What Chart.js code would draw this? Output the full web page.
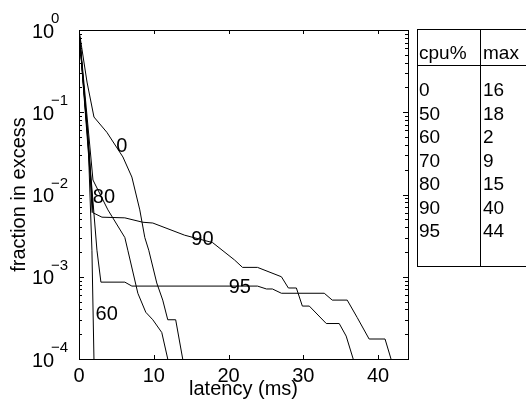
<!DOCTYPE html>
<html>
<head>
<meta charset="utf-8">
<script src="https://cdn.jsdelivr.net/npm/chart.js@4/dist/chart.umd.min.js"></script>
<style>
  body { margin: 0; background: #fff; overflow: hidden; }
  #wrap { position: relative; width: 526px; height: 410px; }
  #tbl { position: absolute; left: 417px; top: 29px; width: 130px; height: 236px;
         border: 1px solid #000; font-family: "Liberation Sans", Arial, sans-serif; font-size: 19px; color: #000; }
  #tbl .div { position: absolute; left: 62px; top: 0; bottom: 0; border-left: 1px solid #000; }
  #tbl .hline { position: absolute; left: 0; right: 0; top: 35px; border-top: 1px solid #000; }
  #tbl .c { position: absolute; line-height: 20px; }
</style>
</head>
<body>
<div id="wrap">
  <canvas id="cht" width="526" height="410"></canvas>
  <div id="tbl"><div class="div"></div><div class="hline"></div></div>
</div>
<script>
// latency (ms) / fraction in excess, one pair per cpu load
var lat0 = [0, 1.07, 2.0, 3.73, 5.87, 7.07, 8.13, 8.8, 9.33, 10.4, 11.2, 11.87, 12.93, 13.87];
var frac0 = [1, 0.233, 0.0875, 0.057, 0.0286, 0.0163, 0.0065, 0.0030, 0.0021, 0.00084, 0.00052, 0.0003, 0.0003, 0.0001];
var lat50 = [0, 1.4, 1.75];
var frac50 = [1, 0.03, 0.006];
var lat60 = [0, 1.2, 1.73, 2.0];
var frac60 = [1, 0.05, 0.0021, 0.0001];
var lat70 = [0, 1.6, 1.85];
var frac70 = [1, 0.015, 0.007];
var lat80 = [0, 1.87, 3.87, 6.13, 6.53, 7.87, 8.93, 9.87, 11.07, 11.87];
var frac80 = [1, 0.015, 0.0065, 0.003, 0.0021, 0.00063, 0.00037, 0.0003, 0.00021, 0.0001];
var lat90 = [0, 1.87, 3.07, 6.13, 8.53, 9.87, 14.13, 17.87, 20.8, 21.87, 23.87, 27.07, 28, 29.07, 29.87, 30.8, 33.07, 34.8, 35.73, 36.67];
var frac90 = [1, 0.006, 0.0053, 0.0052, 0.0046, 0.0045, 0.0032, 0.0026, 0.0016, 0.0013, 0.0013, 0.001, 0.00073, 0.00073, 0.00044, 0.00044, 0.00027, 0.00027, 0.00019, 0.0001];
var lat95 = [0, 2.4, 2.93, 6.13, 7.07, 23.87, 25.07, 25.87, 27.07, 32.8, 33.87, 35.87, 37.2, 38.8, 40.93, 41.73];
var frac95 = [1, 0.0021, 0.00086, 0.00086, 0.00077, 0.00077, 0.00071, 0.00071, 0.00063, 0.00063, 0.00052, 0.00052, 0.00032, 0.000175, 0.000175, 0.0001];

// curve labels
var curveLabels = ['0', '80', '90', '95', '60'];
var curveLabelX = [5.73, 3.33, 16.5, 21.5, 3.7];
var curveLabelY = [0.038, 0.0093, 0.0028, 0.00075, 0.00035];

// table on the right
var cpuPct = ['0', '50', '60', '70', '80', '90', '95'];
var maxLat = ['16', '18', '2', '9', '15', '40', '44'];

var xTicks = [0, 10, 20, 30, 40];
var yExps = [0, -1, -2, -3, -4];

var FONT = '"Liberation Sans", Arial, sans-serif';

function pts(xs, ys) {
    var out = [];
    for (var i = 0; i < xs.length; i++) out.push({x: xs[i], y: ys[i]});
    return out;
}

var series = [[lat0, frac0], [lat50, frac50], [lat60, frac60], [lat70, frac70], [lat80, frac80], [lat90, frac90], [lat95, frac95]];
var datasets = [];
series.forEach(function (s, i) {
    datasets.push({ label: cpuPct[i], data: pts(s[0], s[1]), borderColor: '#000', borderWidth: 1, pointRadius: 0, fill: false, tension: 0 });
});

// build the table
var tbl = document.getElementById('tbl');
function cell(txt, left, top) {
    var d = document.createElement('div');
    d.className = 'c';
    d.textContent = txt;
    d.style.left = left + 'px';
    d.style.top = top + 'px';
    tbl.appendChild(d);
}
cell('cpu%', 1, 13);
cell('max', 65, 13);
cpuPct.forEach(function (c, i) {
    cell(c, 1, 50 + i * 23.5);
    cell(maxLat[i], 65, 50 + i * 23.5);
});

var decor = {
    id: 'decor',
    afterDatasetsDraw: function (chart) {
        var ctx = chart.ctx, a = chart.chartArea;
        var xs = chart.scales.x, ys = chart.scales.y;
        ctx.save();
        ctx.strokeStyle = '#000';
        ctx.lineWidth = 1;
        ctx.strokeRect(Math.round(a.left) + 0.5, Math.round(a.top) + 0.5, Math.round(a.right - a.left), Math.round(a.bottom - a.top));
        ctx.beginPath();
        xTicks.forEach(function (v) {
            var px = Math.round(xs.getPixelForValue(v)) + 0.5;
            ctx.moveTo(px, a.bottom); ctx.lineTo(px, a.bottom - 4);
            ctx.moveTo(px, a.top); ctx.lineTo(px, a.top + 4);
        });
        for (var e = -4; e <= 0; e++) {
            for (var m = 1; m <= 9; m++) {
                var v = m * Math.pow(10, e);
                if (v > 1) break;
                var py = Math.round(ys.getPixelForValue(v)) + 0.5;
                var len = m == 1 ? 5 : 3;
                ctx.moveTo(a.left, py); ctx.lineTo(a.left + len, py);
                ctx.moveTo(a.right, py); ctx.lineTo(a.right - len, py);
            }
        }
        ctx.stroke();

        ctx.fillStyle = '#000';
        ctx.textBaseline = 'middle';
        yExps.forEach(function (k) {
            var py = ys.getPixelForValue(Math.pow(10, k));
            ctx.font = '20px ' + FONT;
            ctx.textAlign = 'left';
            ctx.fillText('10', 32, py + 2);
            ctx.font = '15px ' + FONT;
            ctx.fillText(k == 0 ? '0' : '\u2212' + (-k), 51, py - 11);
        });

        ctx.font = '20px ' + FONT;
        ctx.textAlign = 'center';
        curveLabels.forEach(function (t, i) {
            ctx.fillText(t, xs.getPixelForValue(curveLabelX[i]), ys.getPixelForValue(curveLabelY[i]));
        });
        ctx.restore();
    }
};

new Chart(document.getElementById('cht'), {
    type: 'line',
    data: { datasets: datasets },
    plugins: [decor],
    options: {
        responsive: false,
        animation: false,
        layout: { padding: { top: 30, right: 118, left: 0, bottom: 0 } },
        plugins: { legend: { display: false }, tooltip: { enabled: false } },
        scales: {
            x: {
                type: 'linear', min: 0, max: 44,
                grid: { display: false }, border: { display: false },
                afterFit: function (s) { s.height = 51; },
                afterBuildTicks: function (s) { s.ticks = xTicks.map(function (v) { return {value: v}; }); },
                ticks: { color: '#000', font: { family: FONT, size: 20 }, padding: -3, maxRotation: 0 },
                title: { display: true, text: 'latency (ms)', color: '#000', font: { family: FONT, size: 20 }, padding: { top: 0, bottom: 9 } }
            },
            y: {
                type: 'logarithmic', min: 0.0001, max: 1,
                grid: { display: false }, border: { display: false },
                afterFit: function (s) { s.width = 79; },
                ticks: { display: false },
                title: { display: true, text: 'fraction in excess', color: '#000', font: { family: FONT, size: 20 }, padding: { top: 7, bottom: 0 } }
            }
        }
    }
});
</script>
</body>
</html>
